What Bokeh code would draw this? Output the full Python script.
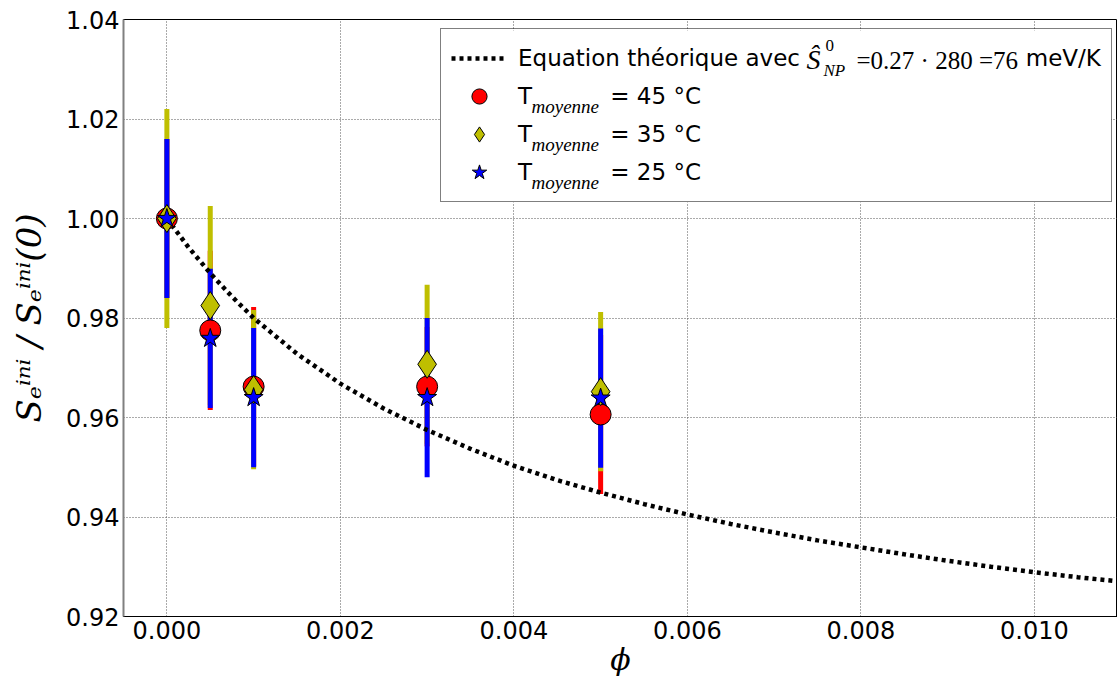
from bokeh.plotting import figure
from bokeh.models import (Range1d, FixedTicker, PrintfTickFormatter, Legend,
                          LegendItem, ColumnDataSource)
from bokeh.core.properties import value
from bokeh.embed import file_html
from bokeh.resources import INLINE

# ---------------- data ----------------
phi = [0.0, 0.0005, 0.001, 0.003, 0.005]
s45 = [1.000, 0.9775, 0.9662, 0.9662, 0.9606]
e45 = [0.016, 0.016, 0.016, 0.012, 0.016]
s35 = [1.000, 0.9825, 0.9656, 0.9707, 0.9652]
e35 = [0.022, 0.020, 0.016, 0.016, 0.016]
s25 = [1.000, 0.9759, 0.9640, 0.9640, 0.9639]
e25 = [0.016, 0.014, 0.014, 0.016, 0.014]

theory_phi = [0.0, 0.00025, 0.0005, 0.00075, 0.001, 0.0015, 0.002, 0.0025,
              0.003, 0.0035, 0.004, 0.0045, 0.005, 0.0055, 0.006, 0.0065,
              0.007, 0.0075, 0.008, 0.0085, 0.009, 0.0095, 0.010, 0.0105, 0.011]
theory_s = [1.0000, 0.9942, 0.9890, 0.9843, 0.9800, 0.9728, 0.9668, 0.9618,
            0.9575, 0.9537, 0.9503, 0.9474, 0.9449, 0.9426, 0.9405, 0.9386,
            0.9369, 0.9353, 0.9339, 0.9325, 0.9312, 0.9300, 0.9289, 0.9279, 0.9270]

x_ticks = [0.0, 0.002, 0.004, 0.006, 0.008, 0.010]
y_ticks = [0.92, 0.94, 0.96, 0.98, 1.00, 1.02, 1.04]

series_labels = ["45 °C", "35 °C", "25 °C"]

# ---------------- figure ----------------
X_LO, X_HI = -0.0005, 0.010958
Y_LO, Y_HI = 0.92, 1.04
FL, FR, FT, FB = 123, 1117, 19, 616   # frame edges in page pixels


def X(px):   # page pixel -> data x (layout helper for legend decorations)
    return X_LO + (px - FL) / (FR - FL) * (X_HI - X_LO)


def Y(py):   # page pixel -> data y
    return Y_LO + (FB - py) / (FB - FT) * (Y_HI - Y_LO)


p = figure(width=1117, height=684, output_backend="svg", toolbar_location=None,
           x_range=Range1d(X_LO, X_HI), y_range=Range1d(Y_LO, Y_HI),
           min_border_left=FL, min_border_right=0, min_border_top=FT,
           min_border_bottom=684 - FB)
p.outline_line_color = "black"
p.outline_line_width = 1
p.background_fill_color = "white"
p.border_fill_color = "white"

for ax in (p.xaxis[0], p.yaxis[0]):
    ax.major_label_text_font = "DejaVu Sans"
    ax.major_label_text_font_size = "24px"
    ax.major_label_text_color = "black"
    ax.major_tick_out = 0
    ax.major_tick_in = 0
    ax.minor_tick_out = 0
    ax.minor_tick_in = 0
    ax.major_label_standoff = 4
    ax.axis_label_text_color = "black"
    ax.axis_label_text_font_style = "italic"

p.xaxis.ticker = FixedTicker(ticks=x_ticks)
p.yaxis.ticker = FixedTicker(ticks=y_ticks)
p.xaxis.formatter = PrintfTickFormatter(format="%.3f")
p.yaxis.formatter = PrintfTickFormatter(format="%.2f")
p.xaxis.axis_line_color = "black"
p.yaxis.axis_line_color = "#808080"
p.yaxis.axis_line_width = 2

p.xaxis.axis_label = "ϕ"
p.xaxis.axis_label_text_font = "DejaVu Serif"
p.xaxis.axis_label_text_font_size = "30px"
p.xaxis.axis_label_standoff = 0

p.yaxis.axis_label = "Sₑⁱⁿⁱ / Sₑⁱⁿⁱ(0)"
p.yaxis.axis_label_text_font = "DejaVu Serif"
p.yaxis.axis_label_text_font_size = "34px"
p.yaxis.axis_label_standoff = 14

p.xgrid[0].ticker = FixedTicker(ticks=x_ticks)
p.ygrid[0].ticker = FixedTicker(ticks=y_ticks)
for g in (p.xgrid[0], p.ygrid[0]):
    g.grid_line_color = "#555555"
    g.grid_line_width = 1
    g.grid_line_dash = "1 2"

# error bars (bars under markers), order 45, 35, 25
colors = ["#ff0000", "#bfbf00", "#0000ff"]
vals = [s45, s35, s25]
errs = [e45, e35, e25]
for c, v, e in zip(colors, vals, errs):
    src = ColumnDataSource(dict(x=phi, lo=[a - b for a, b in zip(v, e)],
                                hi=[a + b for a, b in zip(v, e)]))
    p.segment(x0="x", y0="lo", x1="x", y1="hi", source=src, line_color=c,
              line_width=5)

# theoretical curve
r_th = p.line(theory_phi, theory_s, line_color="black", line_width=4.5,
              line_dash="4 4", line_cap="butt")

m45 = p.scatter(phi, s45, marker="circle", size=21, fill_color="#ff0000",
                line_color="black", line_width=1)
m35 = p.scatter(phi, s35, marker="diamond", size=28, fill_color="#bfbf00",
                line_color="black", line_width=1)
m25 = p.scatter(phi, s25, marker="star", size=20, fill_color="#0000ff",
                line_color="black", line_width=1)

# ---------------- legend ----------------
# white backing box (legend itself is transparent so that the math
# sub/superscripts, drawn as text glyphs, stay visible)
p.quad(left=[X(440)], right=[X(1111)], bottom=[Y(202)], top=[Y(30)],
       fill_color="white", line_color=None)


def tx(text, px, py, size, style="normal", font="Liberation Serif"):
    # py is the wanted baseline; the SVG text sits ~0.32 em lower
    p.text(x=[X(px)], y=[Y(py - 0.32 * size)], text=[text], text_font=value(font),
           text_font_size=f"{size}px", text_font_style=style,
           text_baseline="alphabetic", text_align="left", text_color="black")


tx("Ŝ", 806, 68, 28, "italic")
tx("0", 825, 50, 17)
tx("NP", 823, 75, 17, "italic")
tx("=0.27 · 280 =76", 856, 68, 25)
for yb in (112, 150, 188):
    tx("moyenne", 531, yb, 19, "italic")

EM, EN, TH = "\u2003", "\u2002", "\u2009"
SP1 = " " + EM * 9 + EN
SP2 = EM * 3 + TH * 2
legend = Legend(items=[
    LegendItem(label="Equation théorique avec" + SP1 + "meV/K", renderers=[r_th]),
    LegendItem(label="T" + SP2 + "= " + series_labels[0], renderers=[m45]),
    LegendItem(label="T" + SP2 + "= " + series_labels[1], renderers=[m35]),
    LegendItem(label="T" + SP2 + "= " + series_labels[2], renderers=[m25]),
], location=(440 - FL, FB - 202))
legend.label_text_font = "DejaVu Sans"
legend.label_text_font_size = "23px"
legend.label_text_color = "black"
legend.glyph_width = 56
legend.glyph_height = 38
legend.label_height = 38
legend.spacing = 0
legend.padding = 10
legend.margin = 0
legend.label_standoff = 11
legend.border_line_color = "black"
legend.border_line_width = 1
legend.background_fill_alpha = 0
p.add_layout(legend)

open("out.html", "w").write(file_html(p, INLINE))
